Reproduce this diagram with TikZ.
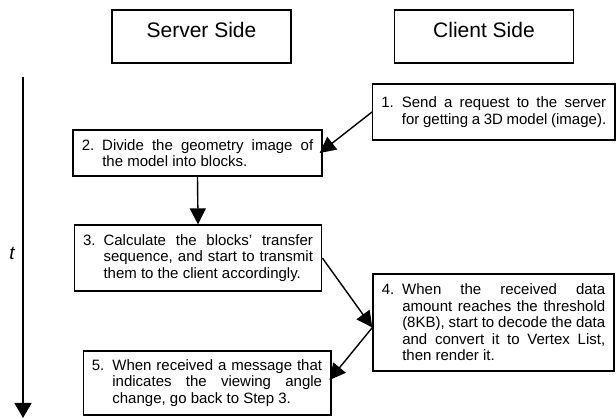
\documentclass[tikz,border=0pt]{standalone}
\usepackage{fontspec}
\setmainfont{Liberation Sans}
\usetikzlibrary{arrows.meta,calc}
\newcommand{\numitem}[1]{\hangindent=20.5pt\hangafter=1\noindent\makebox[20.5pt][l]{#1}}
\begin{document}
\begin{tikzpicture}[x=1pt,y=-1pt,
  hdr/.style={draw, line width=1.3pt, minimum width=179pt, minimum height=53pt,
    inner sep=0pt, font=\fontsize{21}{25}\selectfont, text depth=13.7pt},
  stepbox/.style={draw, line width=1.3pt, inner xsep=8.75pt, inner ysep=0pt,
    align=justify, font=\fontsize{15}{16.5}\selectfont},
  arr/.style={line width=1.4pt, -{Triangle[width=16pt,length=16pt]}},
  tarr/.style={line width=1.4pt, -{Triangle[width=17pt,length=15pt]}}]
\useasboundingbox (0,0) rectangle (616,419);
\fill[white] (0,0) rectangle (616,419);

\node[hdr] (srv) at (201.5,36.5) {Server Side};
\node[hdr] (cli) at (484,36.5) {Client Side};

\coordinate (tltop) at (23,77);
\coordinate (tlbot) at (23,418);
\draw[tarr] (tltop) -- (tlbot);
\node[font=\fontsize{19}{22}\selectfont\itshape] (tlab) at (12,253) {t};

\node[stepbox, minimum width=242.3pt, minimum height=56pt, text width=224.8pt] (b1) at (493.8,112)
  {\numitem{1.}Send a request to the server\linebreak for getting a 3D model (image).\par\vspace{4pt}};
\node[stepbox, minimum width=249pt, minimum height=46pt, text width=231.5pt] (b2) at (197.5,153)
  {\numitem{2.}Divide the geometry image of\linebreak the model into blocks.\par\vspace{9pt}};
\node[stepbox, minimum width=247.4pt, minimum height=66pt, text width=229.9pt] (b3) at (198,258)
  {\numitem{3.}Calculate the blocks' transfer\linebreak sequence, and start to transmit\linebreak them to the client accordingly.\par};
\node[stepbox, minimum width=241pt, minimum height=97pt, text width=223.5pt] (b4) at (493.5,322.5)
  {\numitem{4.}When the received data\linebreak amount reaches the threshold\linebreak (8KB), start to decode the data\linebreak and convert it to Vertex List,\linebreak then render it.\par};
\node[stepbox, minimum width=247.7pt, minimum height=64pt, text width=230.2pt] (b5) at (207,383)
  {\numitem{5.}When received a message that\linebreak indicates the viewing angle\linebreak change, go back to Step 3.\par};

\coordinate (b4in) at ($(b4.west)+(0,5)$);
\draw[arr] (b1.west) -- ($(b2.east)+(-3,0)$);
\draw[arr] (b2.south) -- (b3.north);
\draw[arr] (b3.east) -- (b4in);
\draw[arr] (b4in) -- ($(b5.east)+(-2,-3)$);
\end{tikzpicture}
\end{document}
